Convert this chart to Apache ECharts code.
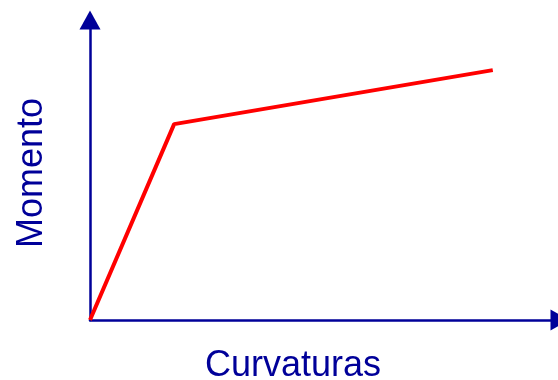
<!DOCTYPE html>
<html>
<head>
<meta charset="utf-8">
<script src="https://cdn.jsdelivr.net/npm/echarts@6/dist/echarts.min.js"></script>
<style>
  html, body { margin: 0; padding: 0; background: #fff; }
  #chart { width: 558px; height: 380px; }
</style>
</head>
<body>
<div id="chart"></div>
<script>
// momento-curvatura (bilinear)
const curvatura = [0, 17.9, 85.7];
const momento = [0, 65.3, 83.3];
const xName = "Curvaturas";
const yName = "Momento";

const navy = "#000099";
const chart = echarts.init(document.getElementById("chart"));

const axisCommon = {
  type: "value",
  min: 0,
  max: 100,
  nameLocation: "middle",
  axisLine: {
    show: true,
    symbol: ["none", "triangle"],
    symbolSize: [21, 19],
    lineStyle: { color: navy, width: 2.5 },
  },
  axisTick: { show: false },
  axisLabel: { show: false },
  splitLine: { show: false },
};

const option = {
  animation: false,
  grid: { left: 90, right: -2, top: 20, bottom: 60, outerBoundsMode: "none" },
  xAxis: {
    ...axisCommon,
    name: xName,
    nameGap: 28,
    nameTextStyle: {
      color: navy,
      fontFamily: "Liberation Sans",
      fontSize: 36,
      padding: [0, 64, 0, 0],
    },
  },
  yAxis: {
    ...axisCommon,
    name: yName,
    nameGap: 40,
    nameTextStyle: {
      color: navy,
      fontFamily: "Liberation Sans",
      fontSize: 36,
      padding: [0, 6, 0, 0],
    },
  },
  series: [
    {
      type: "line",
      data: curvatura.map((c, i) => [c, momento[i]]),
      symbol: "none",
      silent: true,
      lineStyle: { color: "#ff0000", width: 4 },
    },
  ],
};

chart.setOption(option);
</script>
</body>
</html>
